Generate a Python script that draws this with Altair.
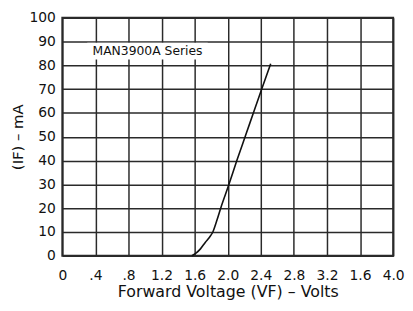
import altair as alt
import pandas as pd
import json

# Data
voltage = [1.567, 1.62, 1.67, 1.73, 1.78, 1.82, 1.87, 1.915, 2.015, 2.11, 2.21, 2.31, 2.41, 2.52]
current = [0, 1.2, 2.9, 5.7, 7.8, 10, 15, 20, 30, 40, 50, 60, 70, 80.7]

x_ticks = [0, 0.4, 0.8, 1.2, 1.6, 2.0, 2.4, 2.8, 3.2, 3.6, 4.0]
x_labels = ["0", ".4", ".8", "1.2", "1.6", "2.0", "2.4", "2.8", "3.2", "1.6", "4.0"]
y_ticks = [0, 10, 20, 30, 40, 50, 60, 70, 80, 90, 100]

note_text = ["MAN3900A Series"]
note_x = [1.03]
note_y = [86]

df = pd.DataFrame({"v": voltage, "i": current})
notes = pd.DataFrame({"t": note_text, "x": note_x, "y": note_y})

label_expr = json.dumps(x_labels) + "[round(datum.value / 0.4)]"

FONT = "DejaVu Sans"
GRID = "#2a2a2a"

x_scale = alt.Scale(domain=[0, 4.0], nice=False)
y_scale = alt.Scale(domain=[0, 100], nice=False)

x_axis = alt.Axis(values=x_ticks, labelExpr=label_expr, title="Forward Voltage (VF) – Volts",
                  grid=True, gridColor=GRID, gridWidth=1.5, gridOpacity=1,
                  domain=False, ticks=False, labelPadding=13, titlePadding=1,
                  labelOverlap=False, labelFlush=False,
                  labelFontSize=14, titleFontSize=16, labelColor="#111", titleColor="#111",
                  labelFont=FONT, titleFont=FONT, titleFontWeight="normal")
y_axis = alt.Axis(values=y_ticks, title="(IF) – mA",
                  grid=True, gridColor=GRID, gridWidth=1.5, gridOpacity=1,
                  domain=False, ticks=False, labelPadding=7, titlePadding=4,
                  labelOverlap=False, labelFlush=False,
                  labelFontSize=14, titleFontSize=15, labelColor="#111", titleColor="#111",
                  labelFont=FONT, titleFont=FONT, titleFontWeight="normal")

line = alt.Chart(df).mark_line(color="#111", strokeWidth=1.6, interpolate="monotone").encode(
    x=alt.X("v:Q", scale=x_scale, axis=x_axis),
    y=alt.Y("i:Q", scale=y_scale, axis=y_axis),
)

box = alt.Chart(notes).mark_rect(color="white", width=122, height=17).encode(
    x=alt.X("x:Q", scale=x_scale, axis=x_axis),
    y=alt.Y("y:Q", scale=y_scale, axis=y_axis),
)

text = alt.Chart(notes).mark_text(fontSize=12.5, font=FONT, color="#111").encode(
    x=alt.X("x:Q", scale=x_scale, axis=x_axis),
    y=alt.Y("y:Q", scale=y_scale, axis=y_axis),
    text="t:N",
)

chart = alt.layer(box, line, text).properties(
    width=335, height=241,
    background="white",
    autosize=alt.AutoSizeParams(type="none"),
    padding={"left": 55, "top": 8, "right": 12, "bottom": 50},
).configure_view(stroke=GRID, strokeWidth=2)

chart.save("out.html", embed_options={"renderer": "svg", "actions": False})
